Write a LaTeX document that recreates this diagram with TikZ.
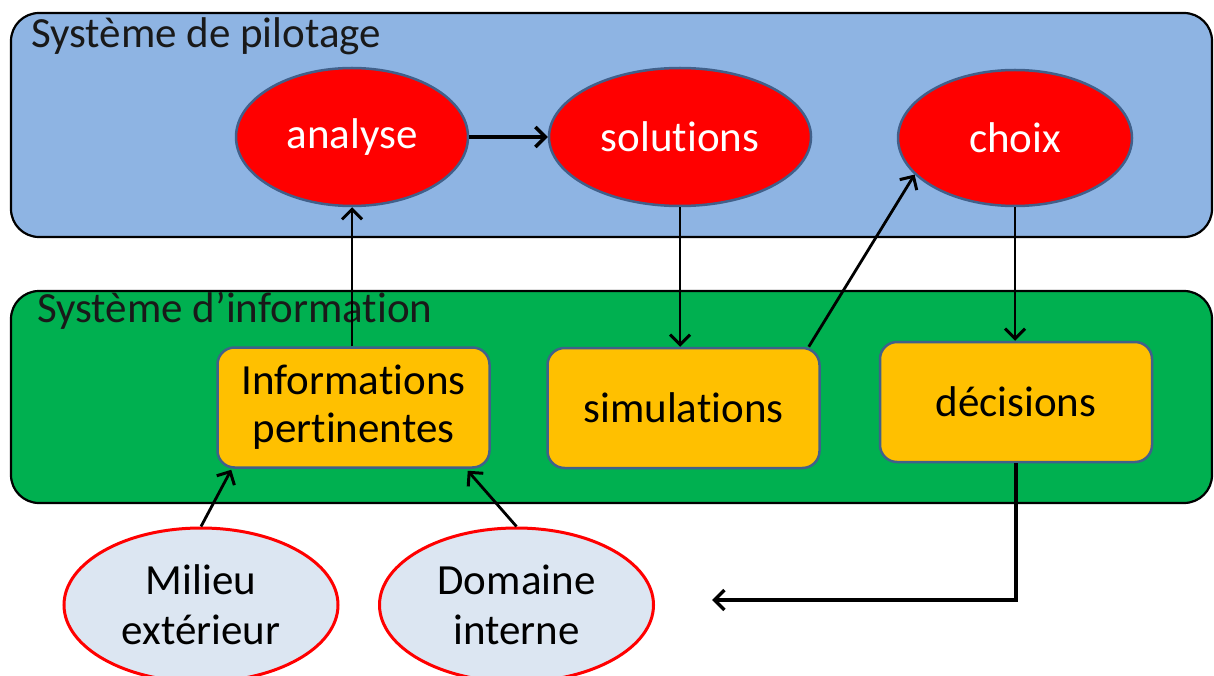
\documentclass[tikz,border=0pt]{standalone}
\usepackage{fontspec}
\setmainfont[Ligatures=NoCommon]{Carlito}
\usetikzlibrary{shapes.geometric,arrows.meta,calc}
\definecolor{pilotblue}{HTML}{8EB4E3}
\definecolor{infogreen}{HTML}{00B050}
\definecolor{boxorange}{HTML}{FFC000}
\definecolor{edgeblue}{HTML}{41608A}
\definecolor{paleblue}{HTML}{DCE6F2}
\tikzset{
  panel/.style={draw=black, line width=2.2pt, rounded corners=28pt},
  redoval/.style={ellipse, draw=edgeblue, line width=2.5pt, fill=red, text=white, inner sep=0pt,
    font=\fontsize{43}{48}\selectfont},
  orangebox/.style={rectangle, rounded corners=17pt, draw=edgeblue, line width=2.5pt, fill=boxorange,
    text=black, inner sep=0pt, minimum width=272pt, minimum height=120pt, align=center,
    font=\fontsize{43}{48}\selectfont},
  paleoval/.style={ellipse, draw=red, line width=3pt, fill=paleblue, text=black, inner sep=0pt,
    minimum width=274pt, minimum height=154pt, align=center, font=\fontsize{43}{50}\selectfont},
  paneltitle/.style={anchor=base west, inner sep=0pt, text=black!90, font=\fontsize{43}{48}\selectfont},
  conn/.style={draw=black, line width=2.8pt, -{Straight Barb[length=10pt,width=20pt,line width=3pt]}},
  thickconn/.style={draw=black, line width=4pt, -{Straight Barb[length=10pt,width=20pt,line width=3.5pt]}}
}
\begin{document}
\begin{tikzpicture}[x=1pt,y=-1pt]
\useasboundingbox (0,0) rectangle (1214,676);
% panels
\path[panel, fill=pilotblue] (11,13) rectangle (1212,237);
\path[panel, fill=infogreen] (11,291) rectangle (1212,503);
\node[paneltitle] (ttl1) at (31,48) {Système de pilotage};
\node[paneltitle] (ttl2) at (37,322) {Système d’information};
% top ellipses
\node[redoval, minimum width=232pt, minimum height=138pt] (analyse) at (352,137) {analyse};
\node[redoval, minimum width=262pt, minimum height=138pt] (solutions) at (680,137) {solutions};
\node[redoval, minimum width=234pt, minimum height=136pt] (choix) at (1015,138) {choix};
% boxes
\node[orangebox] (info) at (353.5,407.5) {Informations\\pertinentes};
\node[orangebox] (sim) at (683.5,408) {simulations};
\node[orangebox] (dec) at (1016,402) {décisions};
% bottom ellipses
\node[paleoval] (milieu) at (201,605) {Milieu\\extérieur};
\node[paleoval] (domaine) at (516.5,605) {Domaine\\interne};
% connectors
\draw[thickconn] (analyse.east) -- (solutions.west);
\draw[conn] (info.north -| analyse.south) -- (analyse.south);
\draw[conn] (solutions.south) -- (solutions.south |- sim.north);
\draw[conn] ($(sim.north east)+(-12,0)$) -- (choix.200);
\draw[conn] (choix.south) -- (choix.south |- dec.north);
\draw[conn] (milieu.north) -- ($(info.south west)+(15,1)$);
\draw[conn] (domaine.north) -- ($(info.south east)+(-23,2)$);
\coordinate (decout) at (712,600);
\draw[thickconn] (dec.south) |- (decout);
\end{tikzpicture}
\end{document}
